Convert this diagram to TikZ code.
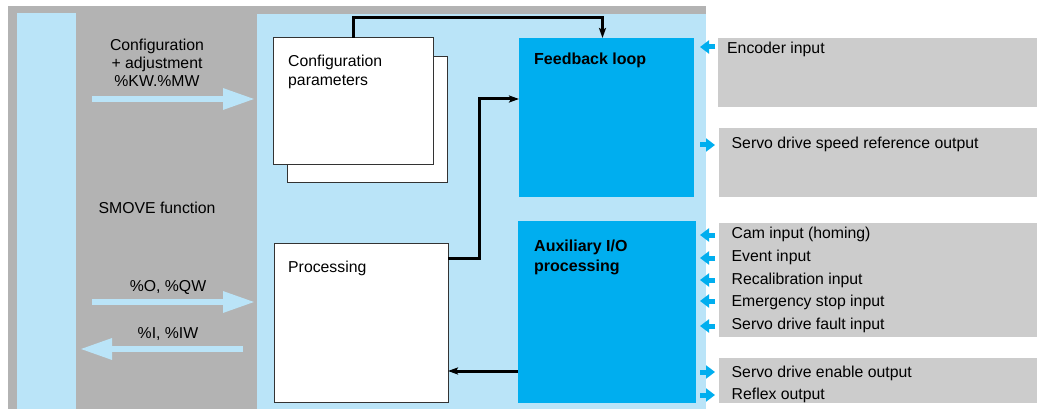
\documentclass[tikz,border=0pt]{standalone}
\usepackage{fontspec}
\setmainfont{Liberation Sans}
\usetikzlibrary{arrows.meta, positioning}
\definecolor{paleblue}{RGB}{186,228,248}
\definecolor{midgray}{RGB}{179,179,179}
\definecolor{iogray}{RGB}{204,204,204}
\definecolor{cyanblue}{RGB}{0,174,239}

\begin{document}
\begin{tikzpicture}[x=1pt, y=-1pt,
  area/.style={rectangle, anchor=north west, inner sep=0pt, outer sep=0pt},
  whitebox/.style={area, draw=black!80, fill=white, line width=1pt},
  bluebox/.style={area, fill=cyanblue},
  iobox/.style={area, fill=iogray},
  lbl/.style={inner sep=0pt, font=\fontsize{15.8}{18}\selectfont},
  boldlbl/.style={lbl, font=\fontsize{16}{20}\selectfont\bfseries, align=left, anchor=north west},
  conn/.style={-{Stealth[length=10pt, width=7pt, inset=2pt]}, line width=3pt, black},
  bigarrow/.style={-{Triangle[length=32pt, width=20pt]}, line width=6pt, paleblue},
  ioarrow/.style={-{Triangle[length=9pt, width=13pt]}, line width=5pt, cyanblue}
]
  \useasboundingbox[fill=white] (0,0) rectangle (1037,409);

  % background areas
  \node[area, fill=midgray, minimum width=698pt, minimum height=403pt] (frame) at (8,6) {};
  \node[area, fill=paleblue, minimum width=59pt, minimum height=396pt] (plc) at (17,13) {};
  \node[area, fill=paleblue, minimum width=449pt, minimum height=395pt] (smove) at (257,14) {};

  % function blocks
  \node[whitebox, minimum width=160pt, minimum height=126pt] (cfgback) at (287,57) {};
  \node[whitebox, minimum width=160pt, minimum height=127pt] (cfg) at (273,38) {};
  \node[whitebox, minimum width=174pt, minimum height=159pt] (proc) at (274,243) {};
  \node[bluebox, minimum width=175pt, minimum height=159pt] (fb) at (519,38) {};
  \node[bluebox, minimum width=178pt, minimum height=182pt] (aux) at (518,221) {};

  \node[lbl, align=left, anchor=north west, font=\fontsize{15.8}{19}\selectfont] (cfgtxt) at (288,55) {Configuration\\parameters};
  \node[lbl, anchor=base west] (proctxt) at (288,272) {Processing};
  \node[boldlbl] (fbtxt) at (534,52.5) {Feedback loop};
  \node[boldlbl] (auxtxt) at (534,239.5) {Auxiliary I/O\\processing};

  % left side exchanges
  \node[lbl, align=center, anchor=north] (cfgin) at (157,39) {Configuration\\+ adjustment\\\%KW.\%MW};
  \node[lbl, anchor=base] (smovetxt) at (157,213.5) {SMOVE function};
  \node[lbl, anchor=base] (outtxt) at (168,291.5) {\%O, \%QW};
  \node[lbl, anchor=base] (intxt) at (168,338.5) {\%I, \%IW};

  \coordinate (cfgstart) at (92,99);
  \coordinate (cfgend) at (255,99);
  \coordinate (outstart) at (92,302);
  \coordinate (outend) at (255,302);
  \coordinate (instart) at (243,349);
  \coordinate (inend) at (80,349);
  \draw[bigarrow] (cfgstart) -- (cfgend);
  \draw[bigarrow] (outstart) -- (outend);
  \draw[bigarrow] (instart) -- (inend);

  % internal links
  \draw[conn] (cfg.north) -- ++(0,-20) -| ([xshift=-4pt]fb.north);
  \draw[conn] ([yshift=-15pt]proc.north east) -- ++(31,0) |- ([yshift=-61pt]fb.north west);
  \draw[conn] ([yshift=32pt]aux.south west) -- ([yshift=31pt]proc.south east);

  % physical I/O
  \node[iobox, minimum width=319pt, minimum height=69pt] (enc) at (718,38) {};
  \node[iobox, minimum width=318pt, minimum height=69pt] (speed) at (719,128) {};
  \node[iobox, minimum width=318pt, minimum height=114pt] (auxin) at (719,223) {};
  \node[iobox, minimum width=318pt, minimum height=45pt] (auxout) at (719,358) {};

  \node[lbl, anchor=base west] (enctxt) at (727,53.5) {Encoder input};
  \node[lbl, anchor=base west] (speedtxt) at (731.5,148.5) {Servo drive speed reference output};
  \node[lbl, align=left, anchor=north west, font=\fontsize{15.8}{22.75}\selectfont] (auxintxt) at (731.5,227)
    {Cam input (homing)\\Event input\\Recalibration input\\Emergency stop input\\Servo drive fault input};
  \node[lbl, align=left, anchor=north west, font=\fontsize{15.8}{22}\selectfont] (auxouttxt) at (731.5,366)
    {Servo drive enable output\\Reflex output};

  \foreach \y in {47,235,258,280,301,326}
    \draw[ioarrow] (715,\y) -- (700,\y);
  \foreach \y in {145,372,395}
    \draw[ioarrow] (700,\y) -- (715,\y);
\end{tikzpicture}
\end{document}
